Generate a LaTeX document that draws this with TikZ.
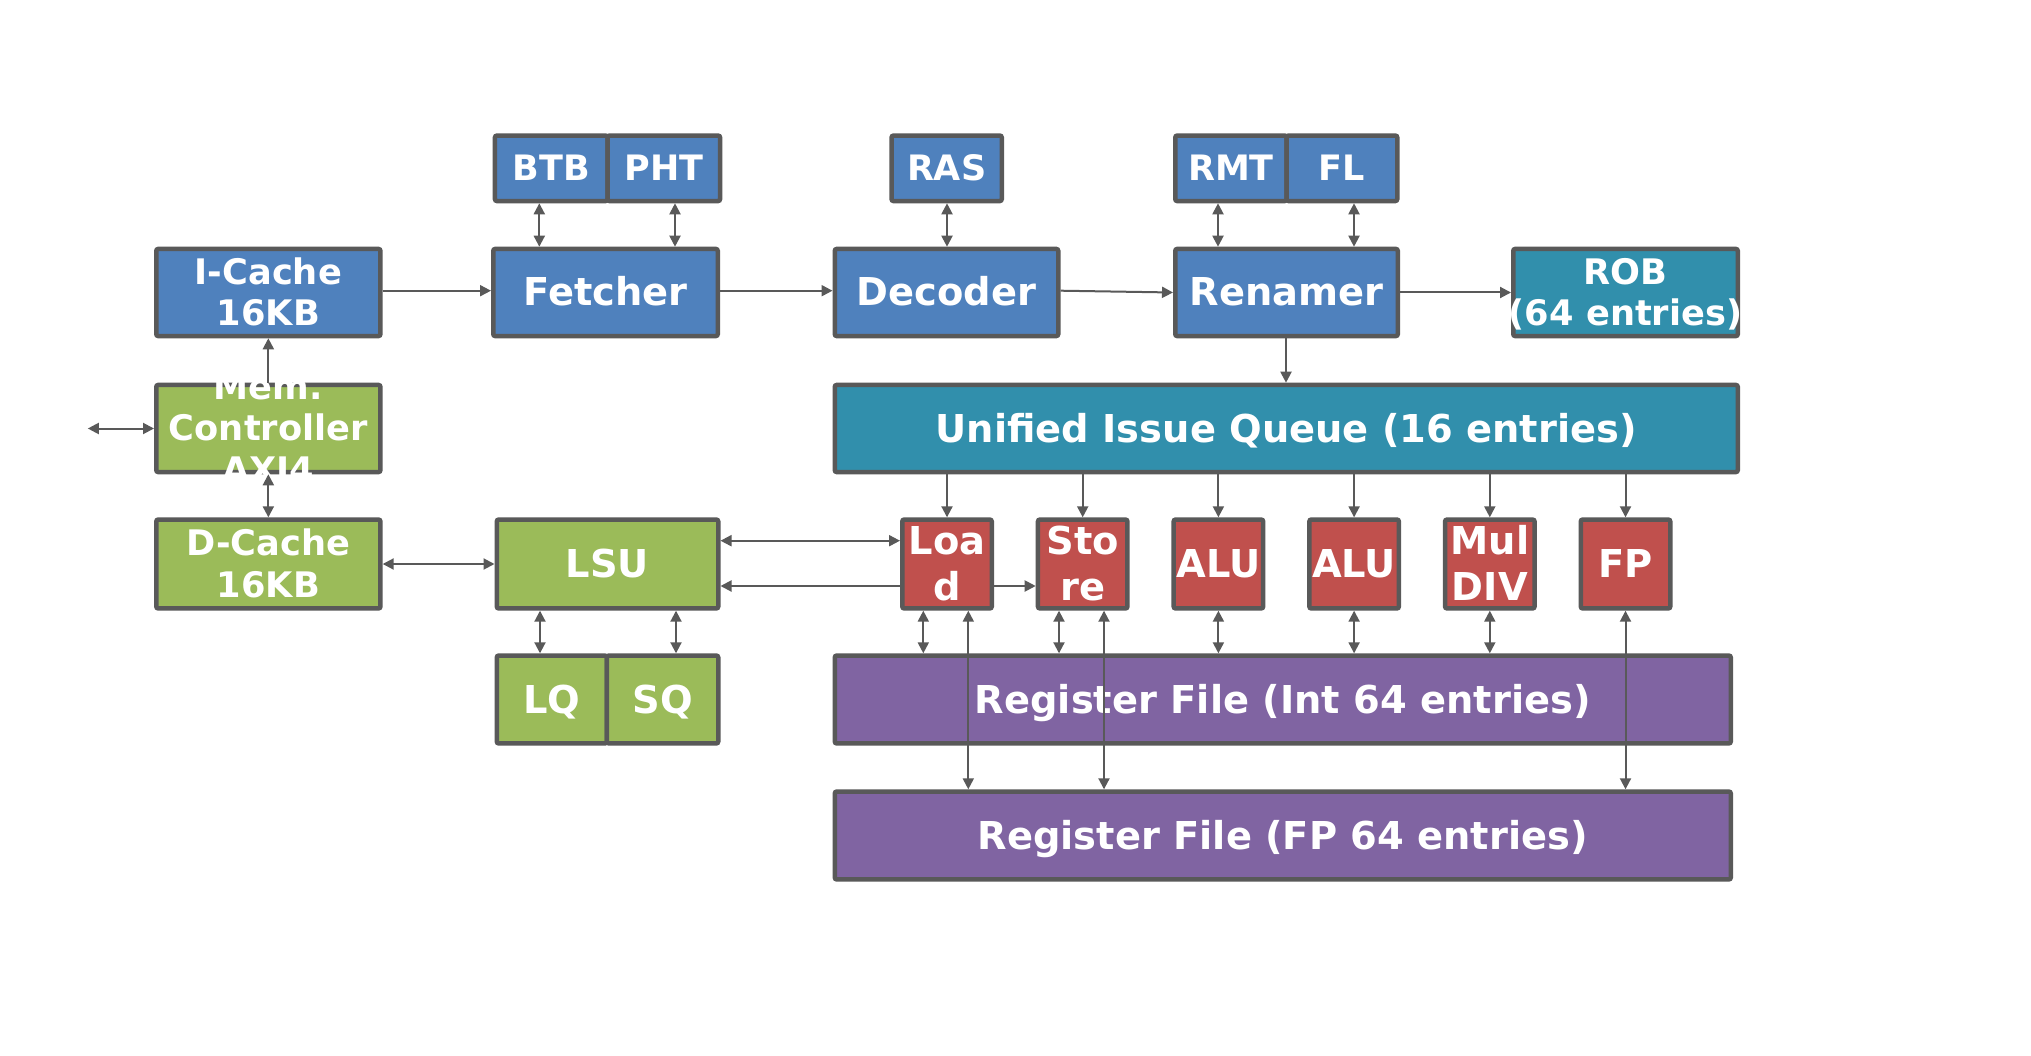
\documentclass[tikz,border=0pt]{standalone}
\usepackage{fontspec}
\setmainfont{DejaVu Sans}
\newfontfamily\dvb{DejaVu Sans Bold}
\usetikzlibrary{arrows.meta}
\definecolor{cblue}{RGB}{79,129,189}
\definecolor{cteal}{RGB}{49,143,172}
\definecolor{cgreen}{RGB}{155,187,89}
\definecolor{cred}{RGB}{192,80,77}
\definecolor{cpurple}{RGB}{128,100,162}
\definecolor{edge}{RGB}{89,89,89}
\newcommand{\fbig}{\dvb\fontsize{38.4}{44}\selectfont}
\newcommand{\fmulti}{\dvb\fontsize{35.2}{41.5}\selectfont}
\newcommand{\fsmall}{\dvb\fontsize{35}{40}\selectfont}
\newcommand{\fnarrow}{\dvb\fontsize{38.4}{45.5}\selectfont}
\newcommand{\myH}{\rule{0pt}{37.5pt}}
\newcommand{\myD}{\rule[-10.5pt]{0pt}{10.5pt}}
\newcommand{\myHm}{\rule{0pt}{36.5pt}}
\newcommand{\myDm}{\rule[-11.5pt]{0pt}{11.5pt}}
\newcommand{\myHc}{\rule{0pt}{36pt}}
\newcommand{\myDc}{\rule[-12pt]{0pt}{12pt}}
\newcommand{\mybox}[6]{\node[box,fill=#2,minimum width={(#5-#3)*1pt-4.5pt},minimum height={(#6-#4)*1pt-4.5pt}] (#1) at ({(#3+#5)/2},{(#4+#6)/2}) {};}
\tikzset{
  box/.style={draw=edge, line width=4.5pt, rounded corners=2pt, inner sep=0pt, outer sep=2.25pt},
  txt/.style={text=white, inner sep=0pt, align=center, font=\fbig},
  stxt/.style={txt, font=\fsmall},
  mtxt/.style={txt, font=\fmulti},
  ntxt/.style={txt, font=\fnarrow},
  tipA/.tip={Triangle[length=11pt,width=11pt]},
  arr/.style={draw=edge, line width=2pt, -tipA},
  dbl/.style={draw=edge, line width=2pt, tipA-tipA}
}
\begin{document}
\begin{tikzpicture}[x=1pt,y=-1pt]
\fill[white] (0,0) rectangle (2031,1056);
\path[use as bounding box] (0,0) rectangle (2031,1056);
% boxes
\mybox{btb}{cblue}{492.7}{133.3}{609.75}{203.3}
\mybox{pht}{cblue}{605.25}{133.3}{722.3}{203.3}
\mybox{ras}{cblue}{889.3}{133.3}{1004}{203.3}
\mybox{rmt}{cblue}{1173}{133.3}{1288.85}{203.3}
\mybox{fl}{cblue}{1284.35}{133.3}{1399.5}{203.3}
\mybox{icache}{cblue}{154}{246.7}{382.7}{338.3}
\mybox{fetch}{cblue}{491}{246.7}{720}{338.3}
\mybox{dec}{cblue}{832.5}{246.7}{1060.5}{338.3}
\mybox{ren}{cblue}{1173}{246.7}{1400}{338.3}
\mybox{rob}{cteal}{1511}{246.7}{1740}{338.3}
\mybox{mem}{cgreen}{154}{382.7}{382.7}{474.3}
\mybox{uiq}{cteal}{832.5}{382.7}{1740}{474.3}
\mybox{dcache}{cgreen}{154}{517.3}{382.7}{610.7}
\mybox{lsu}{cgreen}{494.5}{517.3}{720.5}{610.7}
\mybox{load}{cred}{900}{517.3}{994}{610.7}
\mybox{store}{cred}{1035.7}{517.3}{1129.7}{610.7}
\mybox{aluA}{cred}{1171.4}{517.3}{1265.4}{610.7}
\mybox{aluB}{cred}{1307.1}{517.3}{1401.1}{610.7}
\mybox{mdiv}{cred}{1442.8}{517.3}{1536.8}{610.7}
\mybox{fpu}{cred}{1578.5}{517.3}{1672.5}{610.7}
\mybox{lq}{cgreen}{494.5}{653.3}{609.05}{745.7}
\mybox{sq}{cgreen}{604.55}{653.3}{720.5}{745.7}
\mybox{rfi}{cpurple}{832.5}{653.3}{1733}{745.7}
\mybox{rff}{cpurple}{832.5}{789.3}{1733}{881.7}
% texts
\node[stxt] (btbT) at (btb.center) {\myHc BTB\myDc};
\node[stxt] (phtT) at (pht.center) {\myHc PHT\myDc};
\node[stxt] (rasT) at (ras.center) {\myHc RAS\myDc};
\node[stxt] (rmtT) at (rmt.center) {\myHc RMT\myDc};
\node[stxt] (flT) at (fl.center) {\myHc FL\myDc};
\node[mtxt] (icacheT) at (icache.center) {\myHm I-Cache\\\myDm 16KB};
\node[txt] (fetchT) at (fetch.center) {\myH Fetcher\myD};
\node[txt] (decT) at (dec.center) {\myH Decoder\myD};
\node[txt] (renT) at (ren.center) {\myH Renamer\myD};
\node[mtxt] (robT) at (rob.center) {\myHm ROB\\\myDm(64 entries)};
\node[mtxt] (memT) at (mem.center) {\myHc Mem.\\Controller\\\myDc AXI4};
\node[txt] (uiqT) at (uiq.center) {\myH Unified Issue Queue (16 entries)\myD};
\node[mtxt] (dcacheT) at (dcache.center) {\myHm D-Cache\\\myDm 16KB};
\node[txt] (lsuT) at (lsu.center) {\myH LSU\myD};
\node[ntxt] (loadT) at (load.center) {\myH Loa\\\myD d};
\node[ntxt] (storeT) at (store.center) {\myH Sto\\\myD re};
\node[txt] (aluAT) at (aluA.center) {\myH ALU\myD};
\node[txt] (aluBT) at (aluB.center) {\myH ALU\myD};
\node[ntxt] (mdivT) at (mdiv.center) {\myH Mul\\\myD DIV};
\node[txt] (fpuT) at (fpu.center) {\myH FP\myD};
\node[txt] (lqT) at (lq.center) {\myH LQ\myD};
\node[txt] (sqT) at (sq.center) {\myH SQ\myD};
\node[txt] (rfiT) at (rfi.center) {\myH Register File (Int 64 entries)\myD};
\node[txt] (rffT) at (rff.center) {\myH Register File (FP 64 entries)\myD};
% connectors
\draw[dbl] (btb.south -| 539.3,0) -- (fetch.north -| 539.3,0);
\draw[dbl] (pht.south -| 675,0) -- (fetch.north -| 675,0);
\draw[dbl] (ras.south -| 947,0) -- (dec.north -| 947,0);
\draw[dbl] (rmt.south -| 1218,0) -- (ren.north -| 1218,0);
\draw[dbl] (fl.south -| 1354,0) -- (ren.north -| 1354,0);
\draw[arr] (icache.east |- 0,290.7) -- (fetch.west |- 0,290.7);
\draw[arr] (fetch.east |- 0,290.7) -- (dec.west |- 0,290.7);
\draw[arr] (dec.east |- 0,290.7) -- (ren.west |- 0,292.5);
\draw[arr] (ren.east |- 0,292.5) -- (rob.west |- 0,292.5);
\draw[arr] (ren.south -| 1286,0) -- (uiq.north -| 1286,0);
\draw[arr] (mem.north) -- (icache.south);
\draw[dbl] (dcache.north) -- (mem.south);
\coordinate (ext) at (87.8,428.5);
\draw[dbl] (ext) -- (mem.west);
\foreach \u in {load,store,aluA,aluB,mdiv,fpu}{
  \draw[arr] (uiq.south -| \u.north) -- (\u.north);
}
\draw[dbl] (dcache.east) -- (lsu.west);
\draw[dbl] (lsu.east |- 0,540.7) -- (load.west |- 0,540.7);
\draw[arr] (load.west |- 0,586) -- (lsu.east |- 0,586);
\draw[arr] (load.east |- 0,586) -- (store.west |- 0,586);
\draw[dbl] (lsu.south -| 540,0) -- (lq.north -| 540,0);
\draw[dbl] (lsu.south -| 676,0) -- (sq.north -| 676,0);
\draw[dbl] (load.south -| 923.3,0) -- (rfi.north -| 923.3,0);
\draw[dbl] (load.south -| 968.3,0) -- (rff.north -| 968.3,0);
\draw[dbl] (store.south -| 1059,0) -- (rfi.north -| 1059,0);
\draw[dbl] (store.south -| 1104,0) -- (rff.north -| 1104,0);
\draw[dbl] (aluA.south) -- (rfi.north -| aluA.south);
\draw[dbl] (aluB.south) -- (rfi.north -| aluB.south);
\draw[dbl] (mdiv.south) -- (rfi.north -| mdiv.south);
\draw[dbl] (fpu.south) -- (rff.north -| fpu.south);
\end{tikzpicture}
\end{document}
